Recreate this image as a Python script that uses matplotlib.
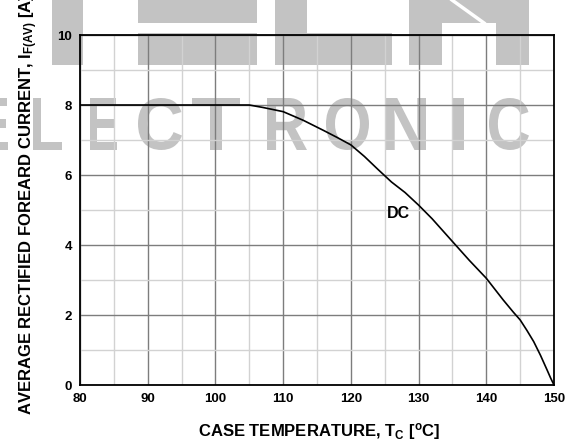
import matplotlib
matplotlib.use("Agg")
import matplotlib.pyplot as plt
from matplotlib.textpath import TextPath
from matplotlib.font_manager import FontProperties
from matplotlib.patches import PathPatch, Polygon
from matplotlib.lines import Line2D
from matplotlib.transforms import Affine2D
from matplotlib.ticker import MultipleLocator

# ---- data ----
temp_c = [80, 105, 107, 110, 113, 116, 118, 120, 122, 124, 126, 128, 130,
          132, 135, 137.5, 140, 142.5, 144, 145, 146, 147, 148, 149, 149.5, 150]
current_a = [8, 8, 7.93, 7.81, 7.56, 7.27, 7.07, 6.86, 6.53, 6.16, 5.8, 5.5, 5.14,
             4.75, 4.1, 3.56, 3.05, 2.43, 2.08, 1.86, 1.56, 1.24, 0.85, 0.42, 0.2, 0]
x_ticks = [80, 90, 100, 110, 120, 130, 140, 150]
y_ticks = [0, 2, 4, 6, 8, 10]
curve_label = "DC"
curve_label_pos = (127.0, 4.89)
x_label = r"CASE TEMPERATURE, T$_{\mathrm{C}}$ [$^{\mathrm{o}}$C]"
y_label = r"AVERAGE RECTIFIED FOREARD CURRENT, I$_{\mathrm{F(AV)}}$ [A]"
watermark_word = "ELECTRONIC"

plt.rcParams['font.family'] = ['Liberation Sans', 'DejaVu Sans']
plt.rcParams['mathtext.fontset'] = 'custom'
plt.rcParams['mathtext.rm'] = 'Liberation Sans:bold'
plt.rcParams['mathtext.it'] = 'Liberation Sans:bold'
plt.rcParams['mathtext.bf'] = 'Liberation Sans:bold'

W, H = 579, 442
fig = plt.figure(figsize=(W / 100, H / 100), dpi=100)
fig.patch.set_facecolor('white')

WM = '#c3c3c3'
to_fig = Affine2D().scale(1 / W, 1 / H) + fig.transFigure

# ---- watermark: top blocks (pixel coords from top) ----
def poly(pts, color=WM):
    p = Polygon([(x, H - y) for x, y in pts], closed=True, facecolor=color,
                edgecolor='none', transform=to_fig, zorder=-2)
    fig.add_artist(p)

poly([(52, 0), (83, 0), (83, 65), (52, 65)])
poly([(138, 0), (257, 0), (257, 23), (138, 23)])
poly([(138, 33), (257, 33), (257, 65), (138, 65)])
poly([(275, 0), (307, 0), (307, 33), (392, 33), (392, 65), (275, 65)])
poly([(409, 0), (529, 0), (529, 65), (496, 65), (496, 23), (442, 23), (442, 65), (409, 65)])
fig.add_artist(Line2D([452, 484], [H - 0, H - 23], color='white', lw=2.5,
                      transform=to_fig, zorder=-1.5))

# ---- watermark letters ----
fp = FontProperties(family='Liberation Sans', weight='bold')
letter_boxes = [(-19, 8), (33, 62), (90, 117), (138, 182), (192, 240),
                (267, 307), (326, 369), (386, 426), (452, 464), (489, 529)]
letters = ["E"] + list(watermark_word[1:])
top_y, bot_y = 98, 150
for ch, (x0, x1) in zip(letters, letter_boxes):
    tp = TextPath((0, 0), ch, size=100, prop=fp)
    ext = tp.get_extents()
    sx = (x1 - x0) / ext.width
    sy = (bot_y - top_y) / ext.height
    tr = Affine2D().translate(-ext.x0, -ext.y0).scale(sx, sy).translate(x0, H - bot_y)
    fig.add_artist(PathPatch(tr.transform_path(tp), facecolor=WM, edgecolor='none',
                             transform=to_fig, zorder=-2))

# ---- axes ----
ax = fig.add_axes([80 / W, 1 - 385 / H, 474 / W, 350 / H])
ax.set_facecolor('none')
ax.set_xlim(80, 150)
ax.set_ylim(0, 10)
ax.set_xticks(x_ticks)
ax.set_yticks(y_ticks)
ax.xaxis.set_minor_locator(MultipleLocator(5))
ax.yaxis.set_minor_locator(MultipleLocator(1))
ax.grid(which='minor', color='#d2d2d2', lw=1.0)
ax.grid(which='major', color='#7d7d7d', lw=1.0)
ax.set_axisbelow(True)
ax.tick_params(which='both', length=0)
ax.tick_params(axis='y', pad=5.5)
ax.tick_params(axis='x', pad=6)
for lab in ax.get_xticklabels() + ax.get_yticklabels():
    lab.set_fontweight('bold')
    lab.set_fontsize(9.5)
for s in ax.spines.values():
    s.set_color('black')
    s.set_linewidth(1.3)
    s.set_zorder(5)

ax.plot(temp_c, current_a, color='black', lw=1.2, zorder=4)
ax.text(*curve_label_pos, curve_label, ha='center', va='center',
        fontsize=11.5, fontweight='bold', zorder=6)

fig.text(319.5 / W, 1 - 436 / H, x_label, ha='center', va='baseline',
         fontsize=12, fontweight='bold')
fig.text(29 / W, 1 - 204 / H, y_label, ha='center', va='center', rotation=90,
         fontsize=12, fontweight='bold')

fig.savefig('out.png', dpi=100)
